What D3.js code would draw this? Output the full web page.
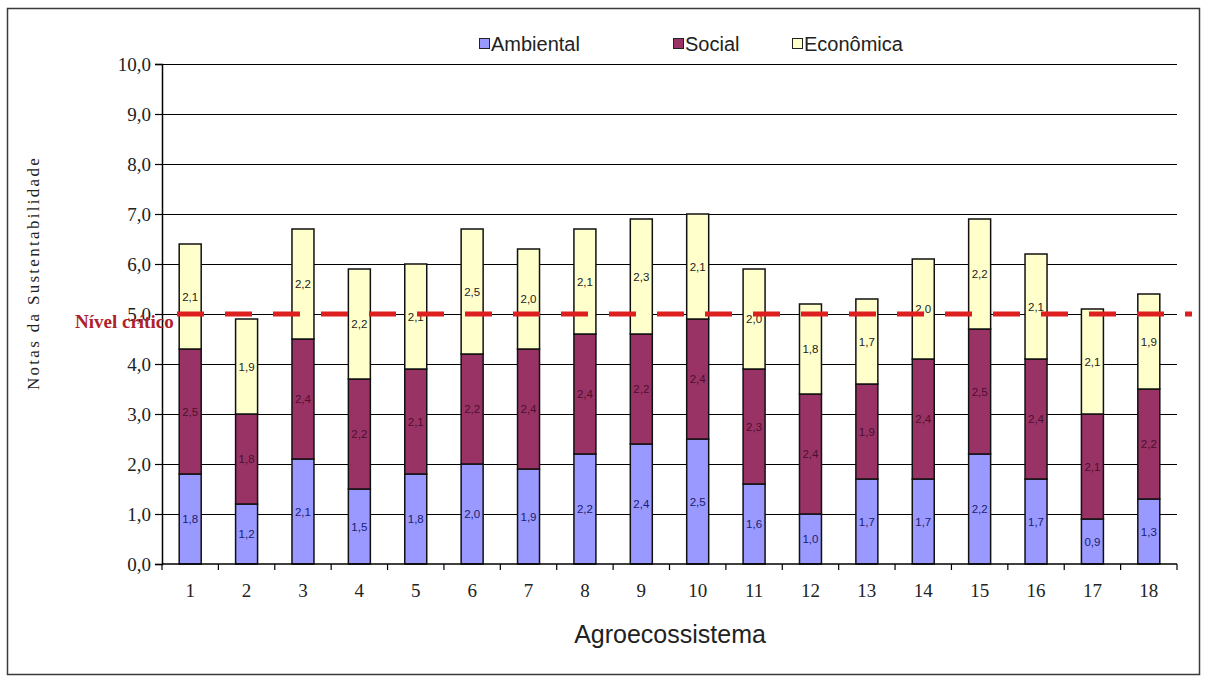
<!DOCTYPE html>
<html>
<head>
<meta charset="utf-8">
<script src="https://cdn.jsdelivr.net/npm/d3@7"></script>
<style>
  html, body { margin: 0; padding: 0; background: #fff; }
  svg { display: block; }
</style>
</head>
<body>
<svg id="chart" width="1210" height="680"></svg>
<script>
// Agroecossistemas avaliados
const categories = ["1","2","3","4","5","6","7","8","9","10","11","12","13","14","15","16","17","18"];

// Notas por dimensão
const ambiental = [1.8, 1.2, 2.1, 1.5, 1.8, 2.0, 1.9, 2.2, 2.4, 2.5, 1.6, 1.0, 1.7, 1.7, 2.2, 1.7, 0.9, 1.3];
const social    = [2.5, 1.8, 2.4, 2.2, 2.1, 2.2, 2.4, 2.4, 2.2, 2.4, 2.3, 2.4, 1.9, 2.4, 2.5, 2.4, 2.1, 2.2];
const economica = [2.1, 1.9, 2.2, 2.2, 2.1, 2.5, 2.0, 2.1, 2.3, 2.1, 2.0, 1.8, 1.7, 2.0, 2.2, 2.1, 2.1, 1.9];

const seriesNames = ["Ambiental", "Social", "Econômica"];
const yTicks = [0, 1, 2, 3, 4, 5, 6, 7, 8, 9, 10];
const criticalLevel = 5.0;

const fmt = v => v.toFixed(1).replace(".", ",");

const svg = d3.select("#chart");
const plot = { left: 162, right: 1177, top: 64, bottom: 564 };

const fills = { "Ambiental": "#9999ff", "Social": "#993366", "Econômica": "#ffffcc" };
const labelColors = { "Ambiental": "#1c1c70", "Social": "#4d0f2c", "Econômica": "#222" };
const serif = "Liberation Serif, Times New Roman, serif";
const sans = "Liberation Sans, Arial, sans-serif";

// Outer frame
svg.append("rect")
  .attr("x", 7.5).attr("y", 8.5)
  .attr("width", 1192).attr("height", 666)
  .attr("fill", "#fff").attr("stroke", "#3a3a3a").attr("stroke-width", 1.5);

const x = d3.scaleBand().domain(categories).range([plot.left, plot.right]).paddingInner(0.61).paddingOuter(0.305);
const y = d3.scaleLinear().domain([0, 10]).range([plot.bottom, plot.top]);

// Horizontal grid lines
svg.append("g")
  .selectAll("line")
  .data(yTicks.filter(t => t > 0))
  .join("line")
  .attr("x1", plot.left).attr("x2", plot.right)
  .attr("y1", d => Math.round(y(d)) + 0.5).attr("y2", d => Math.round(y(d)) + 0.5)
  .attr("stroke", "#000").attr("stroke-width", 1.2);

// Stacked data
const rows = categories.map((c, i) => ({ cat: c, "Ambiental": ambiental[i], "Social": social[i], "Econômica": economica[i] }));
const stack = d3.stack().keys(seriesNames)(rows);

const layers = svg.append("g").selectAll("g")
  .data(stack)
  .join("g")
  .attr("fill", d => fills[d.key]);

layers.selectAll("rect")
  .data(d => d)
  .join("rect")
  .attr("x", d => x(d.data.cat))
  .attr("width", x.bandwidth())
  .attr("y", d => y(d[1]))
  .attr("height", d => y(d[0]) - y(d[1]))
  .attr("stroke", "#111").attr("stroke-width", 1.5);

// Value labels inside segments
stack.forEach(layer => {
  svg.append("g").selectAll("text")
    .data(layer)
    .join("text")
    .attr("x", d => x(d.data.cat) + x.bandwidth() / 2)
    .attr("y", d => y((d[0] + d[1]) / 2))
    .attr("dy", "0.35em")
    .attr("text-anchor", "middle")
    .attr("font-family", sans)
    .attr("font-size", 11.5)
    .attr("fill", labelColors[layer.key])
    .text(d => fmt(d.data[layer.key]));
});

// Y axis
const yAxis = d3.axisLeft(y).tickValues(yTicks).tickSize(7).tickPadding(4).tickFormat(fmt);
const gy = svg.append("g").attr("transform", `translate(${plot.left},0)`).call(yAxis);
gy.select(".domain").attr("stroke", "#000").attr("stroke-width", 1.5);
gy.selectAll(".tick line").attr("stroke", "#000").attr("stroke-width", 1.2);
gy.selectAll(".tick text")
  .attr("font-family", serif)
  .attr("font-size", 19).attr("fill", "#222");

// X axis: ticks at band boundaries
const xAxisG = svg.append("g").attr("transform", `translate(0,${plot.bottom})`);
xAxisG.append("line")
  .attr("x1", plot.left).attr("x2", plot.right)
  .attr("y1", 0).attr("y2", 0)
  .attr("stroke", "#000").attr("stroke-width", 1.5);
const step = x.step();
xAxisG.selectAll("line.tk")
  .data(d3.range(categories.length + 1))
  .join("line")
  .attr("class", "tk")
  .attr("x1", i => plot.left + i * step).attr("x2", i => plot.left + i * step)
  .attr("y1", 0).attr("y2", 6)
  .attr("stroke", "#000").attr("stroke-width", 1.2);
xAxisG.selectAll("text")
  .data(categories)
  .join("text")
  .attr("x", d => x(d) + x.bandwidth() / 2)
  .attr("y", 33)
  .attr("text-anchor", "middle")
  .attr("font-family", serif)
  .attr("font-size", 19).attr("fill", "#222")
  .text(d => d);

// Critical level dashed line
svg.append("line")
  .attr("x1", 177).attr("x2", 1192)
  .attr("y1", y(criticalLevel)).attr("y2", y(criticalLevel))
  .attr("stroke", "#dd1f1f").attr("stroke-width", 5)
  .attr("stroke-dasharray", "27 21");

svg.append("text")
  .attr("x", 75).attr("y", y(criticalLevel) + 14)
  .attr("font-family", serif)
  .attr("font-weight", "bold").attr("font-size", 19)
  .attr("fill", "#b0202a")
  .text("Nível crítico");

// Axis titles
svg.append("text")
  .attr("transform", `translate(39,273) rotate(-90)`)
  .attr("text-anchor", "middle")
  .attr("font-family", serif)
  .attr("font-size", 17).attr("letter-spacing", 2.3).attr("fill", "#222")
  .text("Notas da Sustentabilidade");

svg.append("text")
  .attr("x", 670).attr("y", 643)
  .attr("text-anchor", "middle")
  .attr("font-family", sans)
  .attr("font-size", 25).attr("fill", "#222")
  .text("Agroecossistema");

// Legend
const legendItems = [
  { name: "Ambiental", x: 479 },
  { name: "Social", x: 673 },
  { name: "Econômica", x: 792 }
];
const lg = svg.append("g");
legendItems.forEach(it => {
  lg.append("rect")
    .attr("x", it.x + 0.5).attr("y", 38.5).attr("width", 10).attr("height", 10)
    .attr("fill", fills[it.name]).attr("stroke", "#222").attr("stroke-width", 1);
  lg.append("text")
    .attr("x", it.x + 12).attr("y", 51)
    .attr("font-family", sans)
    .attr("font-size", 20).attr("fill", "#222")
    .text(it.name);
});
</script>
</body>
</html>
